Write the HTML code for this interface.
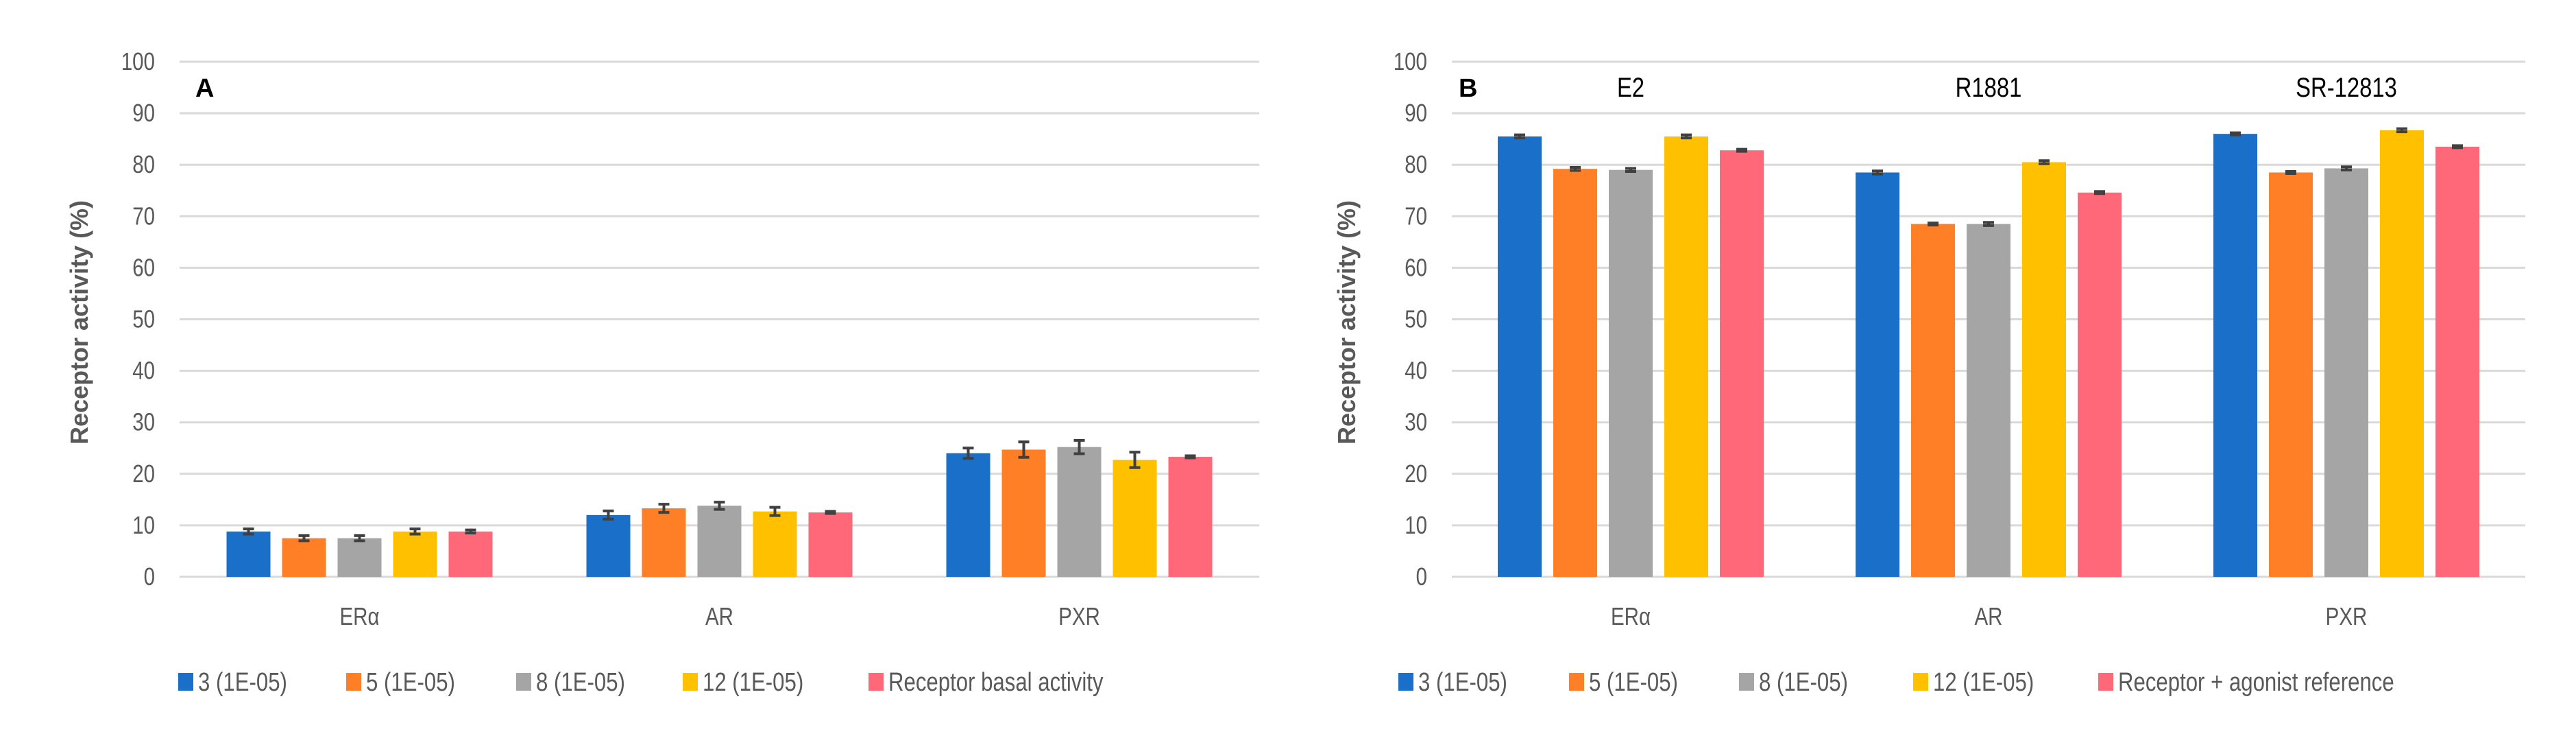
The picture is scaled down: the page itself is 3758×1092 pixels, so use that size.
<!DOCTYPE html>
<html><head><meta charset="utf-8"><style>
body{margin:0;background:#fff;width:3758px;height:1087px;overflow:hidden}
text{font-family:"Liberation Sans Narrow","Liberation Sans",sans-serif;fill:#595959}
</style></head><body>
<svg id="chart" width="3758" height="1087" xmlns="http://www.w3.org/2000/svg"></svg>
<script>
const categories = ["ERα","AR","PXR"];
const seriesNames = ["3 (1E-05)","5 (1E-05)","8 (1E-05)","12 (1E-05)"];
const colors = ["#1a70c8","#ff7f27","#a5a5a5","#ffc000","#ff6878"];
const yTicks = [0,10,20,30,40,50,60,70,80,90,100];
const valuesA = [[8.8,7.5,7.5,8.8,8.8],[12,13.3,13.8,12.7,12.5],[24,24.7,25.2,22.7,23.3]];
const errorsA = [[0.5,0.5,0.5,0.5,0.3],[0.8,0.8,0.7,0.8,0.2],[1,1.5,1.3,1.5,0.2]];
const valuesB = [[85.5,79.2,79,85.5,82.8],[78.5,68.5,68.5,80.5,74.6],[86,78.5,79.3,86.7,83.5]];
const errorsB = [[0.3,0.3,0.3,0.3,0.2],[0.3,0.2,0.3,0.3,0.2],[0.2,0.2,0.3,0.3,0.2]];
const agonists = ["E2","R1881","SR-12813"];
const NS="http://www.w3.org/2000/svg";
const svg=document.getElementById('chart');
function mk(tag,attrs,txt){const e=document.createElementNS(NS,tag);for(const k in attrs)e.setAttribute(k,attrs[k]);if(txt!==undefined)e.textContent=txt;svg.appendChild(e);return e;}
function narrow(e){const w=e.getComputedTextLength();e.setAttribute('textLength',(w*0.82).toFixed(1));e.setAttribute('lengthAdjust','spacingAndGlyphs');}
function panel(p){
  const y=v=>p.y0-(v/100)*(p.y0-p.y100);
  const cw=(p.x1-p.x0)/categories.length;
  yTicks.forEach(t=>{
    const g=mk('line',{x1:p.x0,x2:p.x1,y1:y(t),y2:y(t),stroke:'#d9d9d9','stroke-width':3});
    
    
    const l=mk('text',{x:p.tx,y:y(t)+12,'text-anchor':'end','font-size':36},t);
    
    
    narrow(l);
  });
  const yt=mk('text',{x:0,y:0,transform:`translate(${p.titleX},470) rotate(-90)`,'text-anchor':'middle','font-size':36,'font-weight':'bold',style:'font-family:"Liberation Sans",sans-serif'},'Receptor activity (%)');
  
  
  categories.forEach((c,ci)=>{
    const cx=p.x0+cw*(ci+0.5);
    const start=cx-194;
    p.values[ci].forEach((v,si)=>{
      const bx=start+si*81;
      const b=mk('rect',{x:bx,y:y(v),width:64,height:y(0)-y(v),fill:colors[si]});
      
      
      const e=p.errors[ci][si], mx=bx+32;
      const el=mk('path',{d:`M${mx},${y(v+e)}V${y(v-e)}M${mx-8},${y(v+e)}H${mx+8}M${mx-8},${y(v-e)}H${mx+8}`,stroke:'#404040','stroke-width':4,fill:'none'});
      
      
    });
    const cl=mk('text',{x:cx,y:911,'text-anchor':'middle','font-size':36},c);
    
    
    narrow(cl);
    if(p.agon){
      const a=mk('text',{x:cx,y:141,'text-anchor':'middle','font-size':40,style:'fill:#000'},p.agon[ci]);
      
      
      narrow(a);
    }
  });
  const pl=mk('text',{x:p.lx,y:141,'font-size':38,'font-weight':'bold',style:'fill:#000;font-family:"Liberation Sans",sans-serif'},p.letter);
  
  
  const names=seriesNames.concat([p.lastName]);
  names.forEach((n,i)=>{
    const sw=mk('rect',{x:p.legX[i],y:981,width:22,height:26,fill:colors[i]});
    
    
    const lt=mk('text',{x:p.legX[i]+29,y:1007,'font-size':38},n);
    
    
    narrow(lt);
  });
}
panel({x0:262,x1:1837,y0:841,y100:90,tx:226,titleX:128,values:valuesA,errors:errorsA,letter:'A',lx:285,lastName:'Receptor basal activity',legX:[260,505,753,996,1267]});
panel({x0:2118,x1:3684,y0:841,y100:90,tx:2082,titleX:1977,values:valuesB,errors:errorsB,letter:'B',lx:2128,agon:agonists,lastName:'Receptor + agonist reference',legX:[2040,2289,2537,2791,3061]});
</script>
</body></html>
